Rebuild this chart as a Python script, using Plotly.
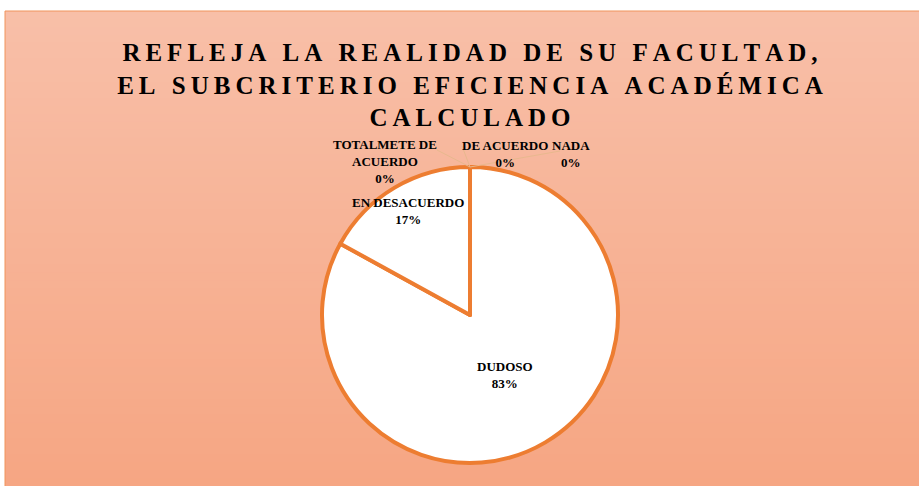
import math
import plotly.graph_objects as go

# ---- data ----
labels = ["DE ACUERDO", "NADA", "DUDOSO", "EN DESACUERDO", "TOTALMETE DE ACUERDO"]
values = [0, 0, 83, 17, 0]
title_lines = ["REFLEJA LA REALIDAD DE SU FACULTAD,",
               "EL SUBCRITERIO EFICIENCIA ACADÉMICA",
               "CALCULADO"]

W, H = 919, 486
CX, CY, R = 470, 315, 148          # pie centre / radius in px
ORANGE = "#ED7D31"
SERIF = "Liberation Serif"

def spaced(s):
    return "\u2009".join(list(s))

title_text = "<b>" + "<br>".join(spaced(l) for l in title_lines) + "</b>"

fig = go.Figure()

# background gradient (chart area)
top = (248, 191, 168)
bot = (246, 166, 131)
nb = 60
x0 = 5 / W
ytop = (H - 11) / H
for i in range(nb):
    t = i / (nb - 1)
    c = tuple(int(round(top[k] + (bot[k] - top[k]) * t)) for k in range(3))
    y1 = ytop - i * ytop / nb
    y0 = ytop - (i + 1) * ytop / nb - 0.002
    fig.add_shape(type="rect", xref="paper", yref="paper", x0=x0, x1=1.01,
                  y0=max(y0, -0.01), y1=y1, line_width=0,
                  fillcolor="rgb(%d,%d,%d)" % c, layer="below")
fig.add_shape(type="rect", xref="paper", yref="paper", x0=x0, x1=1.02,
              y0=-0.02, y1=ytop, line=dict(color="#F0945C", width=1),
              fillcolor="rgba(0,0,0,0)", layer="below")

# pie
fig.add_trace(go.Pie(
    labels=labels, values=values, sort=False, direction="clockwise",
    rotation=0, textinfo="none", hoverinfo="label+percent",
    marker=dict(colors=["white"] * len(values), line=dict(color=ORANGE, width=4)),
    domain=dict(x=[(CX - R) / W, (CX + R) / W],
                y=[(H - CY - R) / H, (H - CY + R) / H]),
    showlegend=False,
))

# data labels for non-zero slices placed along slice bisectors
total = sum(values)
cum = 0
radial = {"DUDOSO": 0.47, "EN DESACUERDO": 0.82}
for lab, v in zip(labels, values):
    pct = v / total
    mid = (cum + pct / 2) * 2 * math.pi
    cum += pct
    if v == 0:
        continue
    r = radial.get(lab, 0.6) * R
    px = CX + r * math.sin(mid)
    py = CY - r * math.cos(mid)
    fig.add_annotation(x=px / W, y=1 - py / H, xref="paper", yref="paper",
                       xanchor="center", yanchor="middle",
                       text="<b>%s<br>%d%%</b>" % (lab, round(pct * 100)),
                       showarrow=False, font=dict(family=SERIF, size=13, color="black"),
                       align="center")

# zero-value labels outside with leader lines
zero_pos = {"TOTALMETE DE ACUERDO": (385, 161, "TOTALMETE DE<br>ACUERDO"),
            "DE ACUERDO": (505, 154, "DE ACUERDO"),
            "NADA": (571, 154, "NADA")}
for lab, v in zip(labels, values):
    if v != 0:
        continue
    px, py, txt = zero_pos[lab]
    fig.add_annotation(x=px / W, y=1 - py / H, xref="paper", yref="paper",
                       xanchor="center", yanchor="middle",
                       text="<b>%s<br>%d%%</b>" % (txt, v),
                       showarrow=False, font=dict(family=SERIF, size=13, color="black"),
                       align="center")
for (lx, ly) in [(437, 150), (462, 146), (560, 151)]:
    fig.add_shape(type="line", xref="paper", yref="paper",
                  x0=CX / W, y0=1 - (CY - R) / H, x1=lx / W, y1=1 - ly / H,
                  line=dict(color="#E8B88E", width=1))

fig.update_layout(
    width=W, height=H, margin=dict(l=0, r=0, t=0, b=0),
    paper_bgcolor="white", plot_bgcolor="rgba(0,0,0,0)",
    title=dict(text=title_text, x=CX / W, xanchor="center", xref="paper",
               y=1 - 61 / H, yanchor="top", yref="paper",
               font=dict(family=SERIF, size=25, color="black")),
)

fig.write_html("out.html", post_script="document.body.style.margin='0';",
               config={"displayModeBar": False})
